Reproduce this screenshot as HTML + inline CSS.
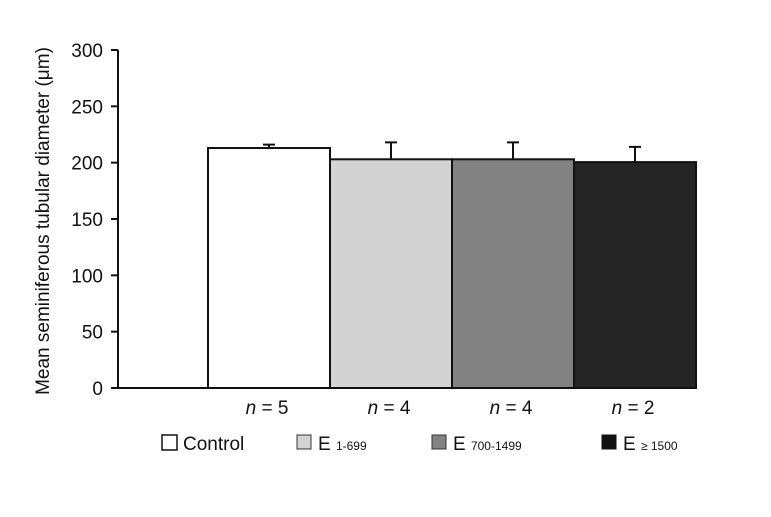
<!DOCTYPE html>
<html><head><meta charset="utf-8"><style>
body{margin:0;background:#fff;font-family:"Liberation Sans",Arial,sans-serif}
svg text{font-family:"Liberation Sans",Arial,sans-serif;fill:#111}
</style></head><body>
<svg width="771" height="512" viewBox="0 0 771 512">
<g id="chart"></g>
<text transform="translate(49,221) rotate(-90)" text-anchor="middle" font-size="19">Mean seminiferous tubular diameter (μm)</text>
<g font-size="19">
<rect x="162" y="435" width="15" height="15" fill="#fff" stroke="#111" stroke-width="1.5"/>
<text x="183" y="450">Control</text>
<rect x="297" y="435" width="14" height="14" fill="#d3d3d3" stroke="#333" stroke-width="1"/>
<text x="318" y="450">E <tspan font-size="12">1-699</tspan></text>
<rect x="432" y="435" width="14" height="14" fill="#828282" stroke="#333" stroke-width="1"/>
<text x="453" y="450">E <tspan font-size="12">700-1499</tspan></text>
<rect x="602" y="435" width="14" height="14" fill="#111" stroke="#111" stroke-width="1"/>
<text x="623" y="450">E <tspan font-size="12">≥ 1500</tspan></text>
</g>
</svg>
<script>
const categories=["Control","E1","E2","E3"];
const means=[213,203,203,200.5];
const errors=[3,15,15,13.5];
const nLabels=["5","4","4","2"];
const yTicks=[0,50,100,150,200,250,300];
const fills=["#ffffff","#d3d3d3","#828282","#252525"];
const NS="http://www.w3.org/2000/svg";
const g=document.getElementById("chart");
const y0=388,y1=50,xAxis=118,barStart=208,barW=122;
function yScale(v){return y0-(v/300)*(y0-y1);}
function xScale(i){return barStart+i*barW;}
function el(t,a){const e=document.createElementNS(NS,t);for(const k in a)e.setAttribute(k,a[k]);g.appendChild(e);return e;}
categories.forEach((c,i)=>{
 const x=xScale(i),y=yScale(means[i]);
 const r=el("rect",{x:x,y:y,width:barW,height:y0-y,fill:fills[i],stroke:"#111","stroke-width":2});
 
 
 const cx=x+barW/2,ye=yScale(means[i]+errors[i]);
 const l=el("path",{d:`M${cx},${y}V${ye}M${cx-6},${ye}H${cx+6}`,stroke:"#111","stroke-width":2,fill:"none"});
 
 
 const t=el("text",{x:cx-2,y:414,"font-size":19,"text-anchor":"middle"});
 
 
 t.innerHTML='<tspan font-style="italic">n</tspan> = '+nLabels[i];
});
const ax=el("path",{d:`M${xAxis},${y1}V${y0}H${xScale(categories.length)}`,stroke:"#111","stroke-width":2,fill:"none"});


yTicks.forEach(v=>{
 const y=yScale(v);
 const tk=el("line",{x1:xAxis-7,x2:xAxis,y1:y,y2:y,stroke:"#111","stroke-width":2});
 
 
 const t=el("text",{x:103,y:y+7,"font-size":19,"text-anchor":"end"});
 
 
 t.textContent=v;
});
</script>
</body></html>
